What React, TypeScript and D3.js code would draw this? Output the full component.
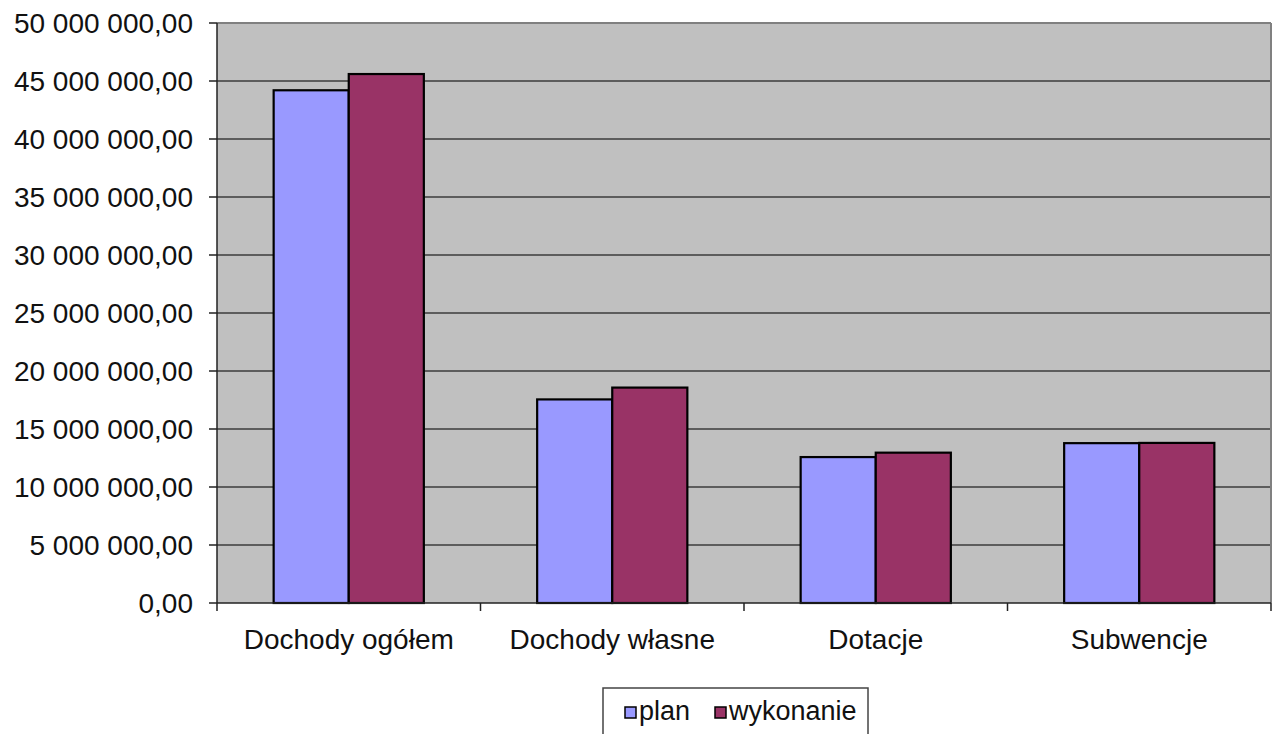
import React from "react";
import * as d3 from "d3";

const categories = ["Dochody ogółem", "Dochody własne", "Dotacje", "Subwencje"];
const seriesNames = ["plan", "wykonanie"];
const planValues = [44200000, 17550000, 12580000, 13780000];
const wykonanieValues = [45600000, 18570000, 12960000, 13800000];
const yTicks = [0, 5000000, 10000000, 15000000, 20000000, 25000000, 30000000, 35000000, 40000000, 45000000, 50000000];
const colors = ["#9999FF", "#993366"];

const W = 1277;
const H = 734;
const left = 217;
const right = 1271;
const top = 23;
const bottom = 603;
const FONT = "'Liberation Sans', Arial, sans-serif";

function fmt(v: number): string {
  const s = Math.round(v).toString().replace(/\B(?=(\d{3})+(?!\d))/g, " ");
  return s + ",00";
}

export default function App() {
  const x0 = d3.scaleBand<string>().domain(categories).range([left, right]).paddingInner(0.43).paddingOuter(0.215);
  const x1 = d3.scaleBand<string>().domain(seriesNames).range([0, x0.bandwidth()]).padding(0);
  const y = d3.scaleLinear().domain([0, 50000000]).range([bottom, top]);
  const series = [planValues, wykonanieValues];
  const step = (right - left) / categories.length;
  const boundaries = d3.range(categories.length + 1).map((i) => left + i * step);

  return (
    <svg width={W} height={H} style={{ position: "fixed", left: 0, top: 0, background: "#fff" }} fontFamily={FONT}>
      <rect x={left} y={top} width={right - left} height={bottom - top} fill="#C0C0C0" />
      {yTicks.slice(1).map((t) => (
        <line key={"g" + t} x1={left} x2={right} y1={y(t)} y2={y(t)} stroke={t === 50000000 ? "#808080" : "#3c3c3c"} strokeWidth={t === 50000000 ? 2 : 1.6} />
      ))}
      <line x1={right} x2={right} y1={top} y2={bottom} stroke="#808080" strokeWidth={2} />
      {categories.map((c, i) =>
        series.map((vals, j) => {
          const xx = (x0(c) as number) + (x1(seriesNames[j]) as number);
          return (
            <rect key={c + j} x={xx} y={y(vals[i])} width={x1.bandwidth()} height={bottom - y(vals[i])} fill={colors[j]} stroke="#000" strokeWidth={2.2} />
          );
        })
      )}
      <line x1={left} x2={left} y1={top} y2={bottom} stroke="#222" strokeWidth={1.5} />
      <line x1={left} x2={right} y1={bottom} y2={bottom} stroke="#222" strokeWidth={1.5} />
      {yTicks.map((t) => (
        <g key={"t" + t}>
          <line x1={left - 8} x2={left} y1={y(t)} y2={y(t)} stroke="#222" strokeWidth={1.5} />
          <text x={193} y={y(t)} dy="0.36em" textAnchor="end" fontSize={28} fill="#111">{fmt(t)}</text>
        </g>
      ))}
      {boundaries.map((b, i) => (
        <line key={"b" + i} x1={b} x2={b} y1={bottom} y2={bottom + 8} stroke="#222" strokeWidth={1.5} />
      ))}
      {categories.map((c) => (
        <text key={"c" + c} x={(x0(c) as number) + x0.bandwidth() / 2} y={649} textAnchor="middle" fontSize={28} fill="#111">{c}</text>
      ))}
      <rect x={603} y={688} width={265} height={60} fill="#fff" stroke="#444" strokeWidth={1.5} />
      {seriesNames.map((s, j) => {
        const lx = j === 0 ? 625 : 715;
        return (
          <g key={"l" + s}>
            <rect x={lx} y={707} width={11} height={11} fill={colors[j]} stroke="#000" strokeWidth={1.5} />
            <text x={lx + 14} y={720} fontSize={27} fill="#111">{s}</text>
          </g>
        );
      })}
    </svg>
  );
}
